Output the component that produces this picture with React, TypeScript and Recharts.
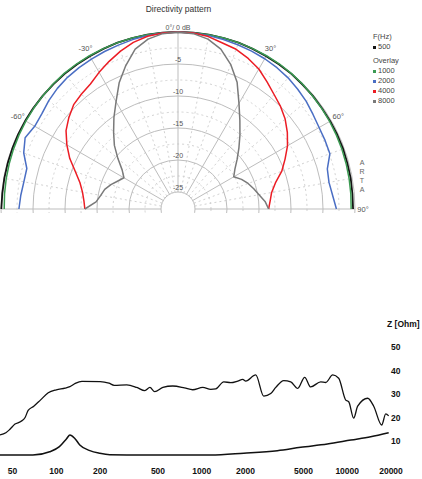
import React from 'react';
import {
  RadarChart,
  Radar,
  PolarGrid,
  PolarAngleAxis,
  PolarRadiusAxis,
  Legend,
  LineChart,
  Line,
  XAxis,
  YAxis
} from 'recharts';

// ---- directivity pattern (dB relative to on-axis) ----
const angles = [
  -90, -85, -80, -75, -70, -65, -60, -55, -50, -45, -40, -35, -30, -25, -20, -15, -10, -5, 0,
  5, 10, 15, 20, 25, 30, 35, 40, 45, 50, 55, 60, 65, 70, 75, 80, 85, 90
];
const db500 = [
  -0.05, -0.1, -0.1, -0.1, -0.1, -0.1, -0.1, -0.1, -0.1, -0.1, -0.1, -0.1, -0.1, -0.05, 0, 0, 0, 0, 0,
  0, 0, 0, 0, -0.05, -0.1, -0.1, -0.1, -0.15, -0.15, -0.2, -0.2, -0.2, -0.2, -0.25, -0.25, -0.3, -0.3
];
const db1000 = [
  -0.5, -0.45, -0.4, -0.35, -0.3, -0.25, -0.2, -0.15, -0.1, -0.05, 0, 0, 0, 0, 0, 0, 0, 0, 0,
  0, 0, 0, 0, 0, 0, 0, -0.05, -0.1, -0.2, -0.25, -0.3, -0.35, -0.4, -0.45, -0.5, -0.55, -0.6
];
const db2000 = [
  -2.8, -3.0, -3.2, -3.2, -2.0, -1.3, -1.8, -1.7, -1.3, -1.0, -0.8, -0.7, -0.6, -0.5, -0.4, -0.25, -0.15, -0.05, 0,
  -0.05, -0.15, -0.25, -0.35, -0.45, -0.55, -0.7, -0.9, -1.2, -1.5, -1.9, -2.2, -2.3, -2.4, -3.5, -3.7, -3.4, -2.9
];
const db4000 = [
  -13.1, -12.9, -12.5, -11.8, -10.6, -9.0, -7.6, -6.3, -5.4, -4.6, -4.2, -3.8, -3.0, -2.2, -1.4, -0.7, -0.25, -0.05, 0,
  -0.05, -0.3, -0.8, -1.1, -1.7, -2.4, -3.4, -4.3, -5.0, -5.8, -6.8, -7.9, -9.2, -10.4, -11.9, -12.8, -13.2, -13.5
];
const db8000 = [
  -13.1, -14.8, -15.4, -15.8, -16.5, -17.3, -17.9, -17.0, -15.4, -13.6, -12.0, -10.2, -8.3, -5.9, -3.8, -1.8, -0.7, -0.15, 0,
  -0.15, -0.7, -1.8, -3.6, -5.8, -8.6, -10.8, -12.6, -14.2, -15.6, -16.8, -17.6, -16.7, -16.0, -15.4, -14.8, -14.0, -13.5
];

const seriesNames = ['500', '1000', '2000', '4000', '8000'];
const seriesKeys = ['f500', 'f1000', 'f2000', 'f4000', 'f8000'];
const seriesColors = ['#141414', '#3b9a52', '#4a6ec4', '#ec1c24', '#7a7a7a'];

const ringDb = [-25, -20, -15, -10, -5, 0];
const halfRingDb = [-22.5, -17.5, -12.5, -7.5, -2.5];
const mainSpokes = [-90, -60, -30, 0, 30, 60, 90];
const minorSpokes = [-80, -70, -50, -40, -20, -10, 10, 20, 40, 50, 70, 80];

// ---- impedance ----
const highFreq = [
  41, 45, 48, 52, 57, 61, 64, 70, 78, 88, 100, 115, 124, 135, 150, 200, 230, 250, 305, 357, 406, 440, 475,
  540, 632, 760, 867, 1016, 1153, 1248, 1416, 1582, 1768, 1913, 2006, 2350, 2668, 2980, 3225, 3660, 4090,
  4570, 5100, 5610, 6575, 7115, 7950, 8740, 9770, 10240, 11080, 11800, 13830, 15210, 17260, 18400, 19280
];
const highZ = [
  12.6, 13.5, 15, 17.2, 18.3, 20, 23, 24.8, 27.5, 30.5, 31.8, 32.5, 33.1, 34.5, 35.4, 35.3, 34.6, 33.7, 33.9,
  32.8, 31.4, 32.8, 31, 32.8, 33.4, 32.6, 31.8, 32.8, 32, 32.2, 35.2, 34.8, 35.5, 36.2, 35.5, 38.1, 29.1, 30.2,
  32.8, 35.7, 35.2, 32.4, 37.1, 33, 35.2, 34.9, 38.1, 36.7, 27.4, 26.7, 19.7, 24.8, 28.2, 24.8, 16.8, 21.5, 20.7
];
const lowFreq = [41, 69, 90, 105, 118, 124, 134, 145, 170, 199, 233, 400, 1153, 1944, 3310, 4790, 7300, 10600, 14500, 19280];
const lowZ = [4, 4, 5.4, 7.6, 11.1, 12.6, 11.1, 8.3, 5.9, 4.8, 4.2, 4, 4, 4.8, 5.9, 7.3, 8.7, 10.4, 11.8, 13.5];

const freqTicks = [50, 100, 200, 500, 1000, 2000, 5000, 10000, 20000];
const zTicks = [10, 20, 30, 40, 50];

// polar geometry
const CX = 178;
const CY = 209;
const R_IN = 17;
const R_OUT = 177;
const DB_MIN = -25;
const radiusOf = (db: number) => R_IN + ((db - DB_MIN) / -DB_MIN) * (R_OUT - R_IN);
const chartAngle = (deg: number) => 90 - deg;

const polarData = angles.map((a, i) => ({
  angle: a,
  f500: db500[i],
  f1000: db1000[i],
  f2000: db2000[i],
  f4000: db4000[i],
  f8000: db8000[i]
}));

const highData = highFreq.map((f, i) => ({ f, z: highZ[i] }));
const lowData = lowFreq.map((f, i) => ({ f, z: lowZ[i] }));

const FONT = '"Liberation Sans", Arial, sans-serif';

// open curve through the radar points (no closing segment along the base)
const OpenCurve = (props: any) => {
  const pts = (props.points || []).filter((p: any) => Number.isFinite(p.x) && Number.isFinite(p.y));
  const d = pts.map((p: any, i: number) => `${i === 0 ? 'M' : 'L'}${p.x},${p.y}`).join('');
  return (
    <path
      d={d}
      fill="none"
      stroke={props.stroke}
      strokeWidth={props.strokeWidth}
      strokeLinejoin="round"
    />
  );
};

const AngleTick = (props: any) => {
  const { x, y, payload } = props;
  const v = payload.value;
  if (v === 0 || v === -90) return <g />;
  return (
    <text x={x} y={y} textAnchor="middle" dominantBaseline="central" fontSize={7.5} fill="#555" fontFamily={FONT}>
      {v}°
    </text>
  );
};

const RadiusTick = (props: any) => {
  const { x, y, payload } = props;
  const v = payload.value;
  return (
    <text x={x} y={y - 5} textAnchor="middle" dominantBaseline="central" fontSize={7} fill="#555" fontFamily={FONT}>
      {v === 0 ? '0°/ 0 dB' : v}
    </text>
  );
};

const renderLegend = () => (
  <div style={{ fontFamily: FONT, fontSize: 7.5, color: '#444', lineHeight: '10px' }}>
    <div>F(Hz)</div>
    {seriesNames.map((name, i) => (
      <React.Fragment key={name}>
        {i === 1 && <div style={{ marginTop: 4 }}>Overlay</div>}
        <div>
          <span
            style={{
              display: 'inline-block',
              width: 3,
              height: 3,
              background: seriesColors[i],
              marginRight: 2,
              verticalAlign: 'middle'
            }}
          />
          {name}
        </div>
      </React.Fragment>
    ))}
  </div>
);

const App: React.FC = () => {
  return (
    <div
      style={{
        position: 'absolute',
        left: 0,
        top: 0,
        width: 422,
        height: 479,
        overflow: 'hidden',
        background: '#fff',
        fontFamily: FONT
      }}
    >
      <div
        style={{
          position: 'absolute',
          left: 0,
          top: 4,
          width: 357,
          textAlign: 'center',
          fontSize: 8.5,
          color: '#333'
        }}
      >
        Directivity pattern
      </div>

      <div style={{ position: 'absolute', left: 0, top: 0, width: 422, height: 213, overflow: 'hidden' }}>
        <RadarChart
          width={422}
          height={420}
          data={polarData}
          cx={CX}
          cy={CY}
          innerRadius={R_IN}
          outerRadius={R_OUT}
          startAngle={180}
          endAngle={0}
          margin={{ top: 0, right: 0, bottom: 0, left: 0 }}
        >
          <PolarGrid
            gridType="circle"
            polarRadius={halfRingDb.map(radiusOf)}
            polarAngles={minorSpokes.map(chartAngle)}
            stroke="#d2d2d2"
            strokeDasharray="2 3"
          />
          <PolarGrid
            gridType="circle"
            polarRadius={ringDb.map(radiusOf)}
            polarAngles={mainSpokes.map(chartAngle)}
            stroke="#bdbdbd"
          />
          <PolarAngleAxis
            dataKey="angle"
            type="number"
            domain={[-90, 90]}
            tickCount={7}
            axisLine={false}
            tickLine={false}
            tick={AngleTick}
          />
          <PolarRadiusAxis
            angle={90}
            type="number"
            domain={[DB_MIN, 0]}
            tickCount={6}
            axisLine={false}
            tickLine={false}
            tick={RadiusTick}
          />
          {seriesKeys.map((key, i) => (
            <Radar
              key={key}
              name={seriesNames[i]}
              dataKey={key}
              stroke={seriesColors[i]}
              strokeWidth={i === 0 ? 1.8 : 1.5}
              fill="none"
              fillOpacity={0}
              dot={false}
              shape={OpenCurve}
              isAnimationActive={false}
            />
          ))}
          <Legend
            layout="vertical"
            align="right"
            verticalAlign="top"
            content={renderLegend}
            wrapperStyle={{ top: 32, left: 373, width: 48 }}
          />
        </RadarChart>
      </div>

      <div
        style={{
          position: 'absolute',
          left: 358,
          top: 158,
          width: 8,
          fontSize: 7,
          lineHeight: '9px',
          color: '#666',
          textAlign: 'center'
        }}
      >
        <div>A</div>
        <div>R</div>
        <div>T</div>
        <div>A</div>
      </div>

      <div style={{ position: 'absolute', left: 0, top: 300 }}>
        <LineChart width={422} height={179} margin={{ top: 23.5, right: 0, bottom: 0, left: 0 }}>
          <XAxis
            dataKey="f"
            type="number"
            scale="log"
            domain={[41, 20000]}
            allowDataOverflow
            ticks={freqTicks}
            height={14.5}
            axisLine={false}
            tickLine={false}
            tickSize={0}
            tickMargin={3.5}
            tick={{ fontSize: 8.5, fontWeight: 'bold', fill: '#111', fontFamily: FONT }}
          />
          <YAxis
            orientation="right"
            type="number"
            domain={[0, 60]}
            ticks={zTicks}
            width={31}
            axisLine={false}
            tickLine={false}
            tickSize={0}
            tickMargin={0}
            tick={{ fontSize: 8.5, fontWeight: 'bold', fill: '#111', fontFamily: FONT, textAnchor: 'start' }}
            label={{
              value: 'Z [Ohm]',
              position: 'insideTopLeft',
              offset: 0,
              dx: -4,
              dy: -3,
              fontSize: 8.5,
              fontWeight: 'bold',
              fill: '#111',
              fontFamily: FONT
            }}
          />
          <Line
            data={highData}
            dataKey="z"
            type="monotone"
            stroke="#111"
            strokeWidth={1.3}
            dot={false}
            isAnimationActive={false}
          />
          <Line
            data={lowData}
            dataKey="z"
            type="monotone"
            stroke="#111"
            strokeWidth={1.5}
            dot={false}
            isAnimationActive={false}
          />
        </LineChart>
      </div>
    </div>
  );
};

export default App;
